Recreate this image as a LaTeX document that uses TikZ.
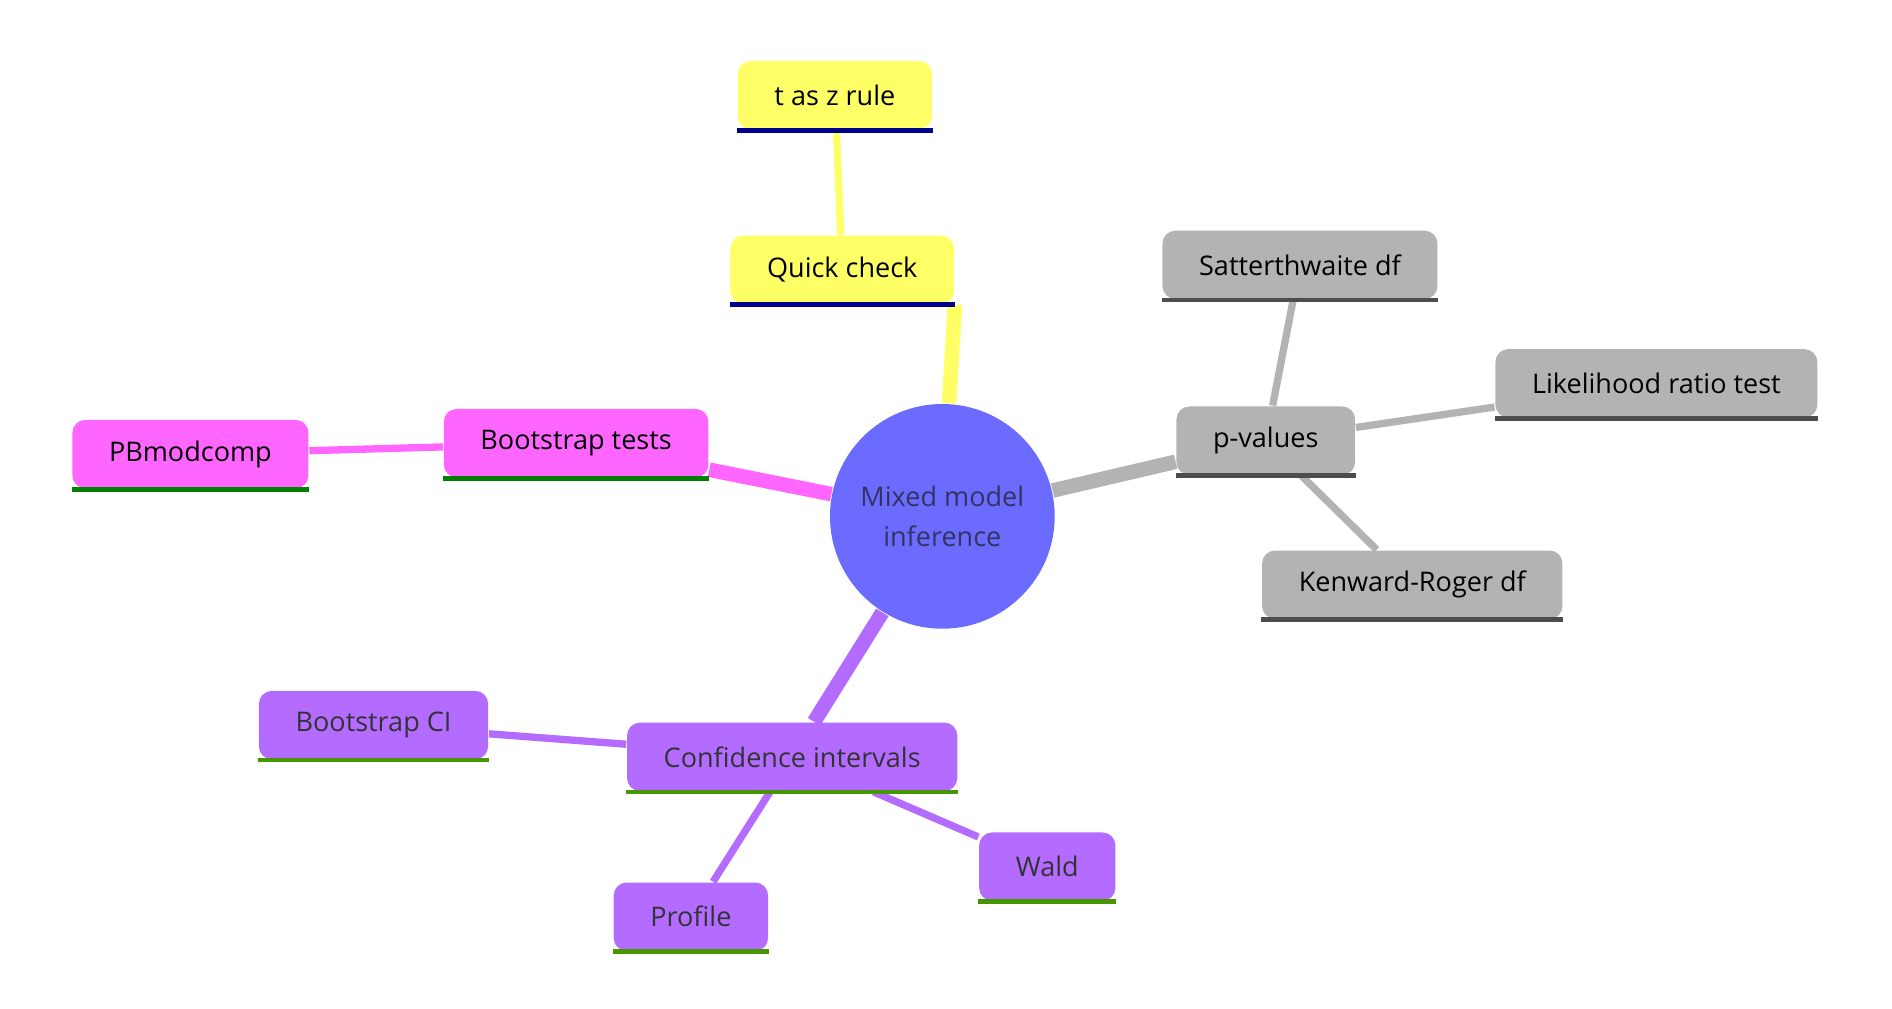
\documentclass[tikz,border=0pt]{standalone}
\usepackage{fontspec}
\setmainfont{Open Sans}
\usetikzlibrary{positioning,backgrounds}
\definecolor{yellowbox}{RGB}{255,255,102}
\definecolor{graybox}{RGB}{179,179,179}
\definecolor{pinkbox}{RGB}{255,102,255}
\definecolor{purplebox}{RGB}{179,108,255}
\definecolor{rootfill}{RGB}{107,107,255}
\definecolor{navybar}{RGB}{0,0,140}
\definecolor{darkbar}{RGB}{77,77,77}
\definecolor{greenbar}{RGB}{0,130,0}
\definecolor{olivebar}{RGB}{70,150,0}

\begin{document}
\begin{tikzpicture}[x=0.01cm,y=-0.01cm,font=\fontsize{6.3}{7.5}\selectfont,
    box/.style 2 args={rectangle,fill=#1,rounded corners=3pt,align=center,inner xsep=0.3cm,minimum height=0.56cm,
      append after command={(\tikzlastnode.south west) edge[draw=#2,line width=1.1pt] (\tikzlastnode.south east)}},
    trunk/.style={line width=3.4pt},
    twig/.style={line width=1.7pt}]
    \useasboundingbox (0,0) rectangle (1550,826);

    \node[circle,fill=rootfill,minimum size=1.84cm,align=center,text=black!70!blue!60!gray] (root) at (772,423) {Mixed model\\[2pt]inference};

    \node[box={yellowbox}{navybar}] (quick) at (690,221) {Quick check};
    \node[box={yellowbox}{navybar}] (tz) at (684,78) {t as z rule};

    \node[box={graybox}{darkbar}] (pval) at (1037,361) {p-values};
    \node[box={graybox}{darkbar}] (satt) at (1065,217) {Satterthwaite df};
    \node[box={graybox}{darkbar}] (lrt) at (1357,314) {Likelihood ratio test};
    \node[box={graybox}{darkbar}] (kr) at (1157,479) {Kenward-Roger df};

    \node[box={pinkbox}{greenbar}] (boot) at (472,363) {Bootstrap tests};
    \node[box={pinkbox}{greenbar}] (pbmod) at (156,372) {PBmodcomp};

    \node[box={purplebox}{olivebar},text=black!80] (ci) at (649,620) {Confidence intervals};
    \node[box={purplebox}{olivebar},text=black!80] (bci) at (306,594) {Bootstrap CI};
    \node[box={purplebox}{olivebar},text=black!80] (wald) at (858,710) {Wald};
    \node[box={purplebox}{olivebar},text=black!80] (prof) at (566,751) {Profile};

    % branches
    \begin{scope}[on background layer]
    \draw[trunk,yellowbox] (root) -- (quick.south east) ;
    \draw[twig,yellowbox] (quick) -- (tz);
    \draw[trunk,graybox] (root) -- (pval);
    \draw[twig,graybox] (pval) -- (satt);
    \draw[twig,graybox] (pval) -- (lrt);
    \draw[twig,graybox] (pval) -- (kr);
    \draw[trunk,pinkbox] (root) -- (boot);
    \draw[twig,pinkbox] (boot) -- (pbmod);
    \draw[trunk,purplebox] (root) -- (ci);
    \draw[twig,purplebox] (ci) -- (bci);
    \draw[twig,purplebox] (ci) -- (wald);
    \draw[twig,purplebox] (ci) -- (prof);
    \end{scope}
\end{tikzpicture}
\end{document}
